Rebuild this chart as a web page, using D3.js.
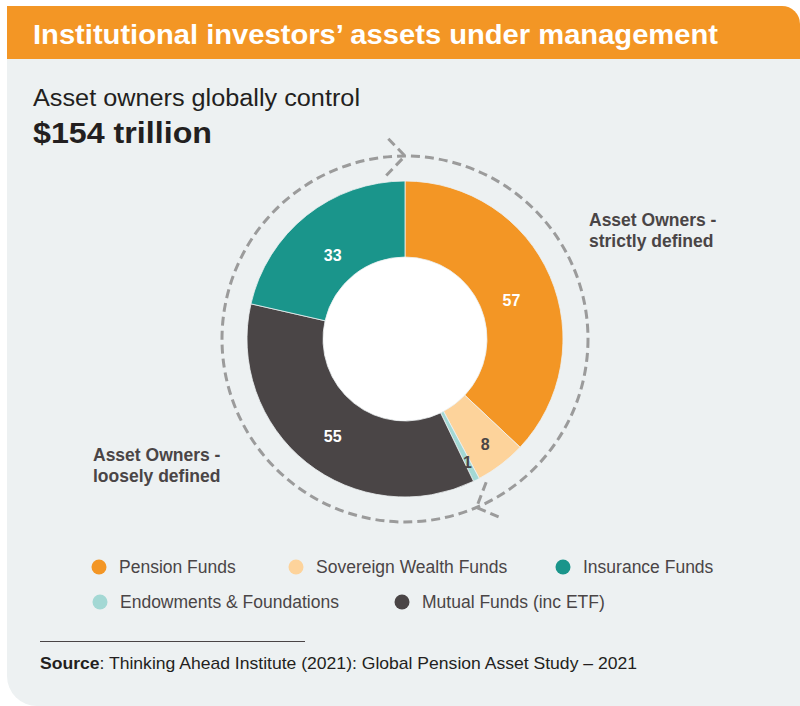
<!DOCTYPE html>
<html>
<head>
<meta charset="utf-8">
<script src="https://cdn.jsdelivr.net/npm/d3@7"></script>
<style>
  body { margin: 0; background: #fff; }
  svg { display: block; font-family: "Liberation Sans", Arial, sans-serif; }
</style>
</head>
<body>
<div id="chart"></div>
<script>
// data
var categories = ["Pension Funds", "Sovereign Wealth Funds", "Endowments & Foundations", "Mutual Funds (inc ETF)", "Insurance Funds"];
var values = [57, 8, 1, 55, 33];
var colors = ["#f39625", "#fdd39b", "#a3d8d4", "#4a4546", "#1a958b"];
var labelColors = ["#fff", "#4a4546", "#4a4546", "#fff", "#fff"];
var legendRows = [["Pension Funds", "Sovereign Wealth Funds", "Insurance Funds"],
                  ["Endowments & Foundations", "Mutual Funds (inc ETF)"]];
var groupLabels = [["Asset Owners -", "strictly defined"], ["Asset Owners -", "loosely defined"]];

var width = 800, height = 706;
var cx = 405, cy = 339;
var outerR = 158, innerR = 82, ringR = 183;
var textColor = "#4a4546";

var svg = d3.select("#chart").append("svg")
    .attr("width", width)
    .attr("height", height);

// panel + header
svg.append("path")
    .attr("d", "M7,58 H800 V706 H37 A30,30 0 0 1 7,676 Z")
    .attr("fill", "#edf1f2");
svg.append("path")
    .attr("d", "M7,59 V6 H782 A18,18 0 0 1 800,24 V59 Z")
    .attr("fill", "#f39625");

svg.append("text")
    .attr("x", 33).attr("y", 44)
    .attr("fill", "#fff")
    .attr("textLength", 685)
    .attr("lengthAdjust", "spacingAndGlyphs")
    .style("font-weight", "bold")
    .style("font-size", "28px")
    .text("Institutional investors\u2019 assets under management");

svg.append("text")
    .attr("x", 33).attr("y", 106)
    .attr("fill", "#231f20")
    .attr("textLength", 327)
    .attr("lengthAdjust", "spacingAndGlyphs")
    .style("font-size", "23px")
    .text("Asset owners globally control");
svg.append("text")
    .attr("x", 33).attr("y", 143)
    .attr("fill", "#231f20")
    .attr("textLength", 179)
    .attr("lengthAdjust", "spacingAndGlyphs")
    .style("font-weight", "bold")
    .style("font-size", "30px")
    .text("$154 trillion");

// dashed ring with arrows
var ring = svg.append("g").attr("transform", "translate(" + cx + "," + cy + ")");
ring.append("circle")
    .attr("r", ringR)
    .attr("fill", "none")
    .attr("stroke", "#9b9b9b")
    .attr("stroke-width", 3)
    .attr("stroke-dasharray", "9,5");

var arrowAngles = [0, 157];
arrowAngles.forEach(function(a) {
    var t = a * Math.PI / 180;
    var tip = [ringR * Math.sin(t), -ringR * Math.cos(t)];
    var back = Math.atan2(-Math.sin(t), -Math.cos(t)); // opposite of clockwise tangent
    var L = 27, spread = 46 * Math.PI / 180;
    var p1 = [tip[0] + L * Math.cos(back - spread), tip[1] + L * Math.sin(back - spread)];
    var p2 = [tip[0] + L * Math.cos(back + spread), tip[1] + L * Math.sin(back + spread)];
    ring.append("path")
        .attr("d", "M" + p1 + " L" + tip + " L" + p2)
        .attr("fill", "none")
        .attr("stroke", "#9b9b9b")
        .attr("stroke-width", 3)
        .attr("stroke-dasharray", "9,5");
});

// donut
var pie = d3.pie().sort(null).value(function(d) { return d; });
var arc = d3.arc().innerRadius(innerR).outerRadius(outerR);
var arcs = pie(values);

var donut = svg.append("g").attr("transform", "translate(" + cx + "," + cy + ")");
donut.append("circle").attr("r", innerR).attr("fill", "#fff");
donut.selectAll(".slice")
    .data(arcs)
  .enter().append("path")
    .attr("class", "slice")
    .attr("d", arc)
    .attr("fill", function(d, i) { return colors[i]; })
    .attr("stroke", "#edf1f2")
    .attr("stroke-width", 0.8);

donut.selectAll(".val")
    .data(arcs)
  .enter().append("text")
    .attr("class", "val")
    .attr("transform", function(d, i) {
        var r = d.data < 2 ? 138 : (d.data < 10 ? 132 : 116);
        var a = (d.startAngle + d.endAngle) / 2;
        var shift = d.data < 10 ? 0 : 7;
        return "translate(" + (r * Math.sin(a)) + "," + (-r * Math.cos(a) + shift) + ")";
    })
    .attr("text-anchor", "middle")
    .attr("dy", "0.36em")
    .attr("fill", function(d, i) { return labelColors[i]; })
    .style("font-weight", "bold")
    .style("font-size", "16px")
    .text(function(d) { return d.data; });

// group annotations
var groupPos = [[589, 226], [93, 461]];
groupLabels.forEach(function(lines, g) {
    var t = svg.append("text")
        .attr("x", groupPos[g][0]).attr("y", groupPos[g][1])
        .attr("fill", textColor)
        .style("font-weight", "bold")
        .style("font-size", "17.5px");
    lines.forEach(function(l, j) {
        t.append("tspan").attr("x", groupPos[g][0]).attr("dy", j ? 21 : 0).text(l);
    });
});

// legend
var legendX = [[99, 296, 563], [100, 402]];
var legendY = [567, 602];
legendRows.forEach(function(row, r) {
    row.forEach(function(name, c) {
        var i = categories.indexOf(name);
        var g = svg.append("g").attr("transform", "translate(" + legendX[r][c] + "," + legendY[r] + ")");
        g.append("circle").attr("r", 7.5).attr("fill", colors[i]);
        g.append("text")
            .attr("x", 20).attr("dy", "0.35em")
            .attr("fill", textColor)
            .style("font-size", "17.5px")
            .text(name);
    });
});

// source
svg.append("line")
    .attr("x1", 40).attr("x2", 305)
    .attr("y1", 641.5).attr("y2", 641.5)
    .attr("stroke", "#4a4546").attr("stroke-width", 1);
var src = svg.append("text")
    .attr("x", 40).attr("y", 669)
    .attr("fill", "#231f20")
    .attr("textLength", 597)
    .attr("lengthAdjust", "spacingAndGlyphs")
    .style("font-size", "17px");
src.append("tspan").style("font-weight", "bold").text("Source");
src.append("tspan").text(": Thinking Ahead Institute (2021): Global Pension Asset Study \u2013 2021");
</script>
</body>
</html>
